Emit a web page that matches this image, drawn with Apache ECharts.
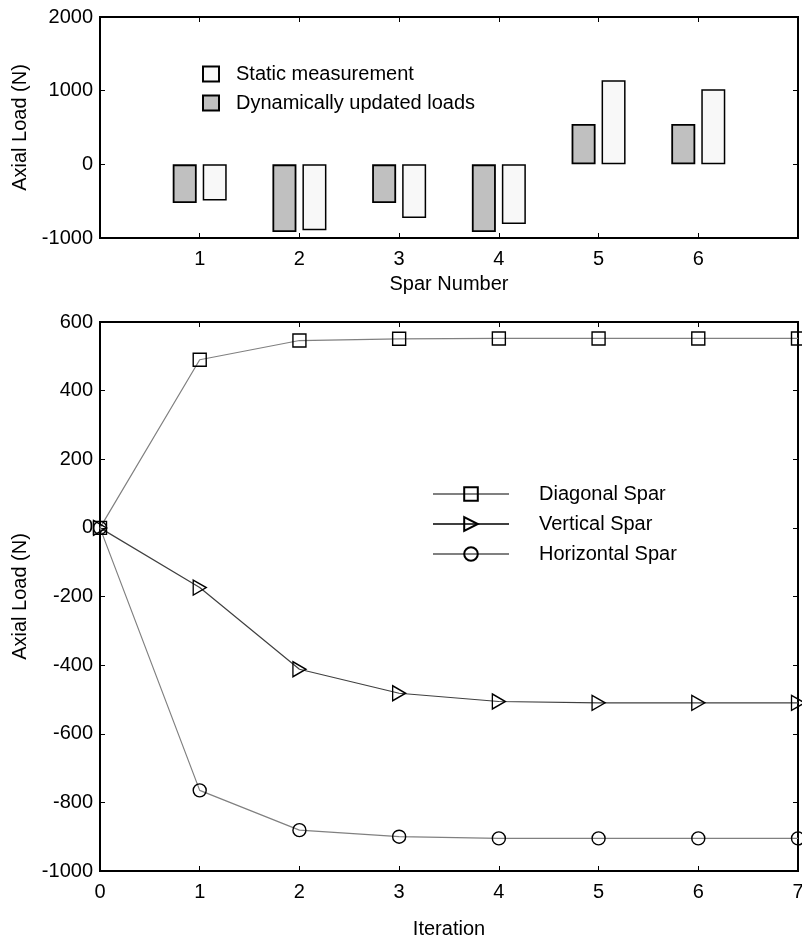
<!DOCTYPE html>
<html><head><meta charset="utf-8">
<script src="https://cdn.jsdelivr.net/npm/echarts@6/dist/echarts.min.js"></script>
<style>html,body{margin:0;padding:0;background:#fff}#c{width:802px;height:940px}</style>
</head><body><div id="c"></div>
<script>
// ---- data ----
const sparNumbers = [1, 2, 3, 4, 5, 6];
const dynamicLoads = [-525, -918, -525, -918, 548, 548];
const staticLoads = [-490, -896, -728, -809, 1143, 1018];
const barYRange = [-1000, 2000, 1000];

const iterations = [0, 1, 2, 3, 4, 5, 6, 7];
const diagonalSpar = [0, 490, 546, 551, 552, 552, 552, 552];
const verticalSpar = [0, -174, -412, -482, -506, -510, -510, -510];
const horizontalSpar = [0, -765, -881, -900, -905, -905, -905, -905];
const lineYRange = [-1000, 600, 200];

const FONT = "'Liberation Sans', Arial, sans-serif";
const FS = 20;

function tickCfg(show) {
  return { show: show, inside: true, length: 5, lineStyle: { color: '#000', width: 1 } };
}
function labelCfg(show, margin, fmt) {
  return { show: show, color: '#000', fontSize: FS, fontFamily: FONT, margin: margin,
           formatter: fmt || (v => String(v)) };
}
const noLine = { show: false, onZero: false };

const chart = echarts.init(document.getElementById('c'), null, { renderer: 'canvas' });
const option = {
  animation: false,
  backgroundColor: '#fff',
  textStyle: { fontFamily: FONT },
  grid: [
    { left: 100, top: 17, width: 698, height: 221, show: true, borderColor: '#000', borderWidth: 2,
      backgroundColor: 'transparent', containLabel: false, outerBoundsMode: 'none' },
    { left: 100, top: 322, width: 698, height: 549, show: true, borderColor: '#000', borderWidth: 2,
      backgroundColor: 'transparent', containLabel: false, outerBoundsMode: 'none' }
  ],
  xAxis: [
    { type: 'value', gridIndex: 0, min: 0, max: sparNumbers.length + 1, interval: 1, position: 'bottom',
      axisLine: noLine, axisTick: tickCfg(true), splitLine: { show: false },
      axisLabel: labelCfg(true, 11, v => sparNumbers.indexOf(v) >= 0 ? String(v) : ''),
      name: 'Spar Number', nameLocation: 'middle', nameGap: 36,
      nameTextStyle: { color: '#000', fontSize: FS, fontFamily: FONT } },
    { type: 'value', gridIndex: 0, min: 0, max: sparNumbers.length + 1, interval: 1, position: 'top',
      axisLine: noLine, axisTick: tickCfg(true), splitLine: { show: false }, axisLabel: { show: false } },
    { type: 'value', gridIndex: 1, min: iterations[0], max: iterations[iterations.length - 1], interval: 1, position: 'bottom',
      axisLine: noLine, axisTick: tickCfg(true), splitLine: { show: false },
      axisLabel: labelCfg(true, 11),
      name: 'Iteration', nameLocation: 'middle', nameGap: 48,
      nameTextStyle: { color: '#000', fontSize: FS, fontFamily: FONT } },
    { type: 'value', gridIndex: 1, min: iterations[0], max: iterations[iterations.length - 1], interval: 1, position: 'top',
      axisLine: noLine, axisTick: tickCfg(true), splitLine: { show: false }, axisLabel: { show: false } }
  ],
  yAxis: [
    { type: 'value', gridIndex: 0, min: barYRange[0], max: barYRange[1], interval: barYRange[2], position: 'left',
      axisLine: noLine, axisTick: tickCfg(true), splitLine: { show: false },
      axisLabel: labelCfg(true, 7),
      name: 'Axial Load (N)', nameLocation: 'middle', nameGap: 62, nameRotate: 90,
      nameTextStyle: { color: '#000', fontSize: FS, fontFamily: FONT } },
    { type: 'value', gridIndex: 0, min: barYRange[0], max: barYRange[1], interval: barYRange[2], position: 'right',
      axisLine: noLine, axisTick: tickCfg(true), splitLine: { show: false }, axisLabel: { show: false } },
    { type: 'value', gridIndex: 1, min: lineYRange[0], max: lineYRange[1], interval: lineYRange[2], position: 'left',
      axisLine: noLine, axisTick: tickCfg(true), splitLine: { show: false },
      axisLabel: labelCfg(true, 7),
      name: 'Axial Load (N)', nameLocation: 'middle', nameGap: 62, nameRotate: 90,
      nameTextStyle: { color: '#000', fontSize: FS, fontFamily: FONT } },
    { type: 'value', gridIndex: 1, min: lineYRange[0], max: lineYRange[1], interval: lineYRange[2], position: 'right',
      axisLine: noLine, axisTick: tickCfg(true), splitLine: { show: false }, axisLabel: { show: false } }
  ],
  legend: [
    { orient: 'vertical', left: 202, top: 64, padding: 0, itemWidth: 16, itemHeight: 15, itemGap: 9, icon: 'rect',
      data: ['Static measurement', 'Dynamically updated loads'],
      textStyle: { color: '#000', fontSize: FS, fontFamily: FONT, lineHeight: 20, padding: [0, 0, 0, 12] },
      selectedMode: false },
    { orient: 'vertical', left: 432, top: 484, padding: 0, itemWidth: 76, itemHeight: 17, itemGap: 10,
      data: ['Diagonal Spar', 'Vertical Spar', 'Horizontal Spar'],
      textStyle: { color: '#000', fontSize: FS, fontFamily: FONT, lineHeight: 20, padding: [0, 0, 0, 25] },
      selectedMode: false }
  ],
  series: [
    { type: 'bar', name: 'Dynamically updated loads', xAxisIndex: 0, yAxisIndex: 0,
      data: sparNumbers.map((s, i) => [s, dynamicLoads[i]]),
      barWidth: 24, barGap: '25%', silent: true,
      itemStyle: { color: '#c0c0c0', borderColor: '#000', borderWidth: 1.8 } },
    { type: 'bar', name: 'Static measurement', xAxisIndex: 0, yAxisIndex: 0,
      data: sparNumbers.map((s, i) => [s, staticLoads[i]]),
      barWidth: 24, barGap: '25%', silent: true,
      itemStyle: { color: '#f8f8f8', borderColor: '#000', borderWidth: 1.5 } },
    { type: 'line', name: 'Diagonal Spar', xAxisIndex: 2, yAxisIndex: 2,
      data: iterations.map((t, i) => [t, diagonalSpar[i]]),
      symbol: 'rect', symbolSize: 13, showAllSymbol: true, silent: true,
      lineStyle: { color: '#808080', width: 1.2 },
      itemStyle: { color: 'rgba(255,255,255,0)', borderColor: '#000', borderWidth: 1.4 } },
    { type: 'line', name: 'Vertical Spar', xAxisIndex: 2, yAxisIndex: 2,
      data: iterations.map((t, i) => [t, verticalSpar[i]]),
      symbol: 'path://M0,0L13,7.5L0,15Z', symbolSize: [13, 15], showAllSymbol: true, silent: true,
      lineStyle: { color: '#404040', width: 1.2 },
      itemStyle: { color: 'rgba(255,255,255,0)', borderColor: '#000', borderWidth: 1.4 } },
    { type: 'line', name: 'Horizontal Spar', xAxisIndex: 2, yAxisIndex: 2,
      data: iterations.map((t, i) => [t, horizontalSpar[i]]),
      symbol: 'circle', symbolSize: 13, showAllSymbol: true, silent: true,
      lineStyle: { color: '#808080', width: 1.2 },
      itemStyle: { color: 'rgba(255,255,255,0)', borderColor: '#000', borderWidth: 1.4 } }
  ]
};
chart.setOption(option);
</script>
</body></html>
